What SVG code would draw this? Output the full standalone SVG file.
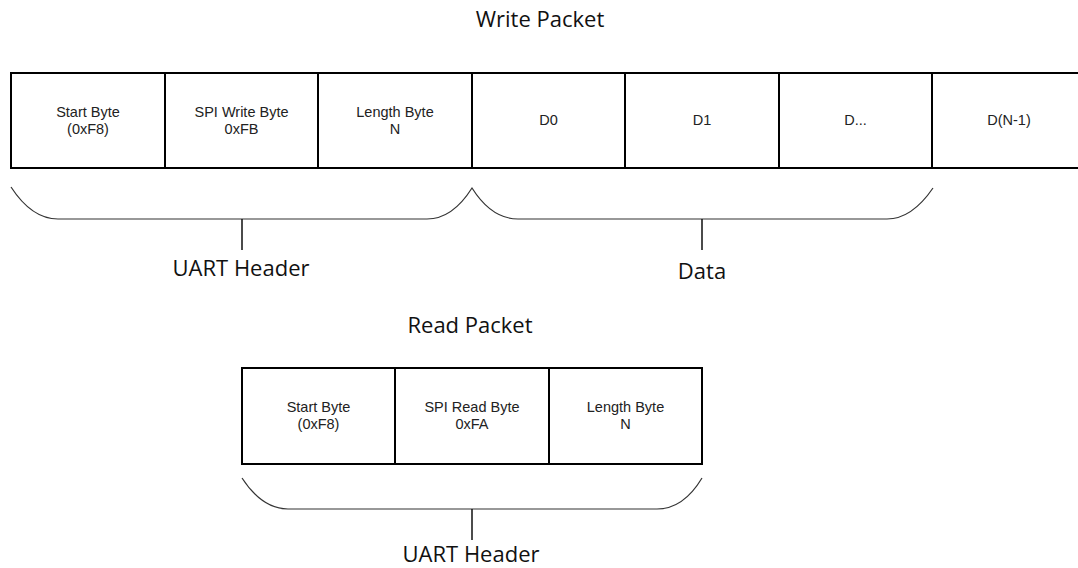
<svg xmlns="http://www.w3.org/2000/svg" width="1078" height="568" viewBox="0 0 1078 568">
<style>
.cell{fill:#fff;stroke:#000;stroke-width:2}
.bt{font-family:"Liberation Sans",Arial,sans-serif;font-size:14.5px;fill:#222;text-anchor:middle}
.lbl{font-family:"Open Sans","Liberation Sans",sans-serif;font-size:22px;fill:#111;text-anchor:middle}
.brace{fill:none;stroke:#333;stroke-width:1.2}
.tick{fill:none;stroke:#111;stroke-width:1.5}
</style>
<rect width="1078" height="568" fill="#fff"/>
<text class="lbl" x="540" y="27">Write Packet</text>
<text class="lbl" x="470" y="333">Read Packet</text>
<g id="w-start"><rect class="cell" x="11" y="73" width="154" height="95"/><text class="bt" x="88" y="117">Start Byte</text><text class="bt" x="88" y="134">(0xF8)</text></g>
<g id="w-spi"><rect class="cell" x="165" y="73" width="153" height="95"/><text class="bt" x="241.5" y="117">SPI Write Byte</text><text class="bt" x="241.5" y="134">0xFB</text></g>
<g id="w-len"><rect class="cell" x="318" y="73" width="154" height="95"/><text class="bt" x="395" y="117">Length Byte</text><text class="bt" x="395" y="134">N</text></g>
<g id="w-d0"><rect class="cell" x="472" y="73" width="153" height="95"/><text class="bt" x="548.5" y="125">D0</text></g>
<g id="w-d1"><rect class="cell" x="625" y="73" width="154" height="95"/><text class="bt" x="702" y="125">D1</text></g>
<g id="w-dd"><rect class="cell" x="779" y="73" width="153" height="95"/><text class="bt" x="855.5" y="125">D...</text></g>
<g id="w-dn"><path class="cell" d="M1080,73 H932 V168 H1080"/><text class="bt" x="1009" y="125">D(N-1)</text></g>
<g id="r-start"><rect class="cell" x="242" y="368" width="153" height="96"/><text class="bt" x="318.5" y="412">Start Byte</text><text class="bt" x="318.5" y="429">(0xF8)</text></g>
<g id="r-spi"><rect class="cell" x="395" y="368" width="154" height="96"/><text class="bt" x="472" y="412">SPI Read Byte</text><text class="bt" x="472" y="429">0xFA</text></g>
<g id="r-len"><rect class="cell" x="549" y="368" width="153" height="96"/><text class="bt" x="625.5" y="412">Length Byte</text><text class="bt" x="625.5" y="429">N</text></g>
<g id="connectors">
<path class="brace" d="M11,187 C24,207 40,219 58,219 H427 C445,219 460,207 472,188 C484,207 500,219 518,219 H887 C905,219 920,207 933,188"/>
<path class="tick" d="M242,219 V250 M702,219 V250"/>
<path class="brace" d="M242,478 C255,498 271,509 288,509 H657 C675,509 690,498 702,478"/>
<path class="tick" d="M472,509 V540"/>
</g>
<g id="labels">
<text class="lbl" x="241" y="276">UART Header</text>
<text class="lbl" x="702" y="279">Data</text>
<text class="lbl" x="471" y="562">UART Header</text>
</g>
</svg>
